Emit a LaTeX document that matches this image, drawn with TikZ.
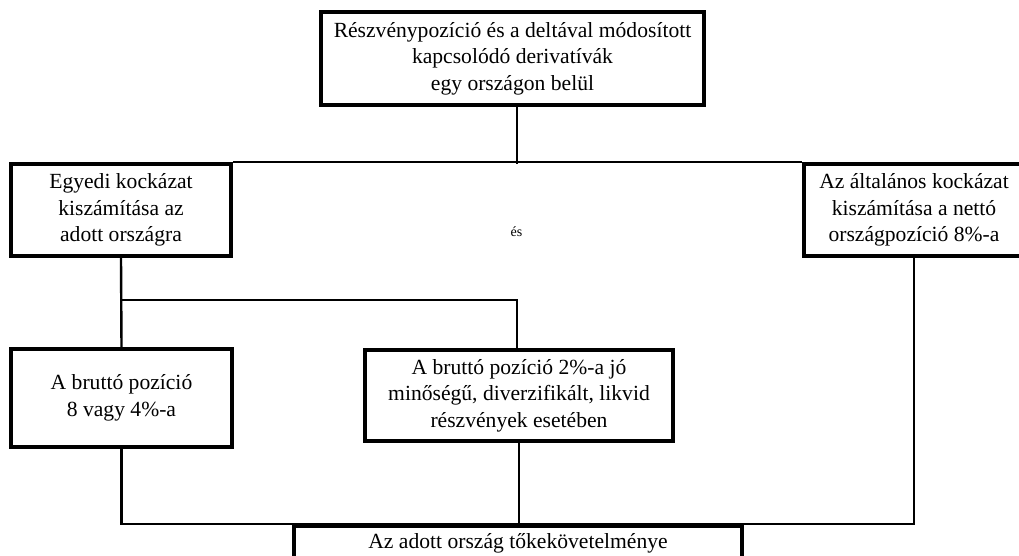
\documentclass[tikz,border=0pt]{standalone}
\usepackage{fontspec}
\setmainfont{Liberation Serif}
\usetikzlibrary{positioning,calc}

\begin{document}
\begin{tikzpicture}[
  x=1pt, y=-1pt,
  box node/.style={draw, line width=3.8pt, fill=white, inner sep=0pt, align=center,
    font=\fontsize{21.6}{26.5}\selectfont},
  link/.style={line width=2.4pt},
  small node/.style={font=\fontsize{14}{16}\selectfont, inner sep=0pt},
]
\useasboundingbox (0,0) rectangle (1019,555);
\clip (0,0) rectangle (1019,555);

% Starting position
\node[box node, minimum width=383pt, minimum height=93pt] (pos) at (512.5,58.5)
  {Részvénypozíció és a deltával módosított\\kapcsolódó derivatívák\\egy országon belül};

% Specific and general risk
\node[box node, minimum width=220pt, minimum height=92pt] (egyedi) at (121,210)
  {Egyedi kockázat\\kiszámítása az\\adott országra};
\node[box node, minimum width=220pt, minimum height=92pt] (altalanos) at (914,210)
  {Az általános kockázat\\kiszámítása a nettó\\országpozíció 8\%-a};
\node[small node] (es) at (516.5,232) {és};

% Gross position variants
\node[box node, minimum width=221pt, minimum height=98pt] (brutto) at (121.5,398)
  {A bruttó pozíció\\8 vagy 4\%-a};
\node[box node, minimum width=308pt, minimum height=91pt] (likvid) at (519,395.5)
  {A bruttó pozíció 2\%-a jó\\minőségű, diverzifikált, likvid\\részvények esetében};

% Capital requirement (runs off the page)
\node[box node, anchor=north, minimum width=448pt, text height=23pt, text depth=60pt]
  (toke) at (518,524) {Az adott ország tőkekövetelménye};

% Connectors
\coordinate (hub) at (517,164);
\coordinate (split) at (517,300);
\draw[link] (pos.south -| hub) -- (hub);
\draw[link] (egyedi.north east) -- (altalanos.north west);
\draw[link] (egyedi.south) -- (brutto.north);
\draw[link] (egyedi.south |- split) -- (split) -- (split |- likvid.north);
\draw[link] (brutto.south) |- (altalanos.south |- toke.north) -- (altalanos.south);
\draw[link] (likvid.south) -- (likvid.south |- toke.north);

\end{tikzpicture}
\end{document}
